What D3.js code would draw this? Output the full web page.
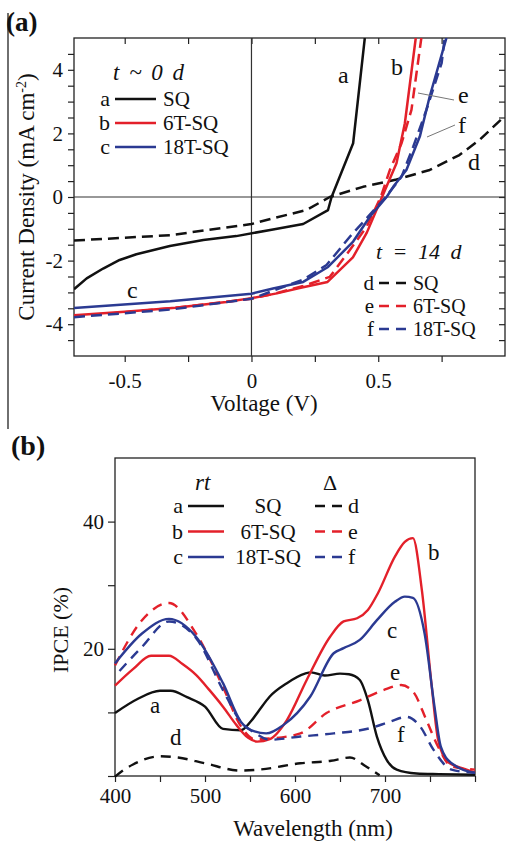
<!DOCTYPE html>
<html><head><meta charset="utf-8">
<script src="https://cdn.jsdelivr.net/npm/d3@7"></script>
<style>body{margin:0;background:#fff}svg{display:block}
svg text{font-family:"Liberation Serif","Tinos","Times New Roman","Times","DejaVu Serif",serif;fill:#111}</style>
</head><body><svg id="c" width="506" height="843"></svg>
<script>
// ---------- Panel (a): J–V curves ----------
const jvLabels = ["a","b","c","d","e","f"];
const jvNames = ["SQ","6T-SQ","18T-SQ","SQ","6T-SQ","18T-SQ"];
const jvV_a = [-0.7,-0.65,-0.585,-0.52,-0.454,-0.322,-0.19,-0.06,0.085,0.204,0.302,0.316,0.401,0.447];
const jvJ_a = [-2.9,-2.56,-2.25,-1.98,-1.80,-1.54,-1.35,-1.23,-1.02,-0.85,-0.41,0,1.69,5.0];
const jvV_b = [-0.7,-0.5,-0.3,-0.1,0,0.1,0.19,0.3,0.4,0.455,0.515,0.572,0.605,0.648];
const jvJ_b = [-3.72,-3.61,-3.48,-3.3,-3.18,-3.03,-2.86,-2.67,-1.9,-1.12,0,1.06,2.32,5.0];
const jvV_c = [-0.7,-0.32,0,0.085,0.204,0.302,0.401,0.467,0.533,0.559,0.611,0.664,0.703,0.769];
const jvJ_c = [-3.49,-3.28,-3.04,-2.88,-2.67,-2.2,-1.4,-0.62,0,0.32,0.85,1.9,3.16,5.0];
const jvV_d = [-0.7,-0.32,0,0.085,0.217,0.309,0.44,0.572,0.703,0.82,0.9,1.0];
const jvJ_d = [-1.37,-1.2,-0.85,-0.67,-0.41,0,0.32,0.55,0.85,1.32,1.8,2.55];
const jvV_e = [-0.7,-0.32,0,0.085,0.204,0.309,0.388,0.454,0.51,0.546,0.592,0.631,0.67];
const jvJ_e = [-3.76,-3.5,-3.2,-3.05,-2.8,-2.51,-1.67,-0.94,0,0.85,1.69,2.74,5.0];
const jvV_f = [-0.7,-0.32,0,0.085,0.204,0.296,0.388,0.454,0.53,0.592,0.638,0.69,0.75,0.762];
const jvJ_f = [-3.78,-3.54,-3.2,-2.95,-2.6,-2.14,-1.25,-0.67,0,0.64,1.58,2.74,4.21,5.0];
const jvXTicks = [-0.5,-0.25,0,0.25,0.5,0.75];
const jvXLabels = {"-0.5":"-0.5","0":"0","0.5":"0.5"};
const jvYTicks = [-4.5,-4,-3.5,-3,-2.5,-2,-1.5,-1,-0.5,0,0.5,1,1.5,2,2.5,3,3.5,4,4.5];
const jvYLabels = {"-4":"-4","-2":"-2","0":"0","2":"2","4":"4"};

// ---------- Panel (b): IPCE spectra ----------
const ipceL_a = [400,425,450,462,480,500,520,540,551,560,572,591,611,618,633,650,660,672,681,691,702,713,735,760,800];
const ipceV_a = [9.9,12.1,13.4,13.4,12.4,10.9,7.4,7.2,8.6,10.3,12.5,14.6,16.1,16.3,15.8,16.1,16.0,15.1,11.9,6.2,2.5,1.0,0.4,0.3,0.2];
const ipceL_b = [400,420,440,460,475,490,505,520,535,548,558,572,591,613,639,654,669,681,692,711,722,731,741,752,759,770,789,800];
const ipceV_b = [14.2,16.8,18.9,18.9,17.6,15.9,13.5,10.9,8.0,6.0,5.4,5.8,8.8,15.1,21.9,24.3,24.8,26.1,28.7,34.5,36.8,37.4,29.2,14.0,5.7,2.2,1.1,0.5];
const ipceL_c = [400,430,460,490,520,540,555,568,587,617,643,654,672,691,711,722,731,744,755,762,774,800];
const ipceV_c = [17.7,22.4,24.7,21.9,14.6,8.5,7.0,6.7,8.0,12.5,19.3,20.1,21.4,24.5,27.4,28.2,28.0,22.4,10.9,4.6,2.0,0.5];
const ipceL_d = [400,408,420,450,470,500,539,560,606,640,661,679,694];
const ipceV_d = [-0.1,0.8,1.8,3.1,2.9,2.0,0.85,1.0,2.0,2.4,2.9,1.5,0.1];
const ipceL_e = [400,430,460,490,520,540,555,572,606,635,672,698,718,731,746,759,774,800];
const ipceV_e = [17.4,24.5,27.2,22.4,14.0,7.8,5.8,5.9,6.7,9.9,11.9,13.5,14.3,13.3,8.8,4.6,1.5,1.0];
const ipceL_f = [405,430,460,490,520,540,555,572,606,643,683,705,724,739,754,774,800];
const ipceV_f = [16.5,20.3,24.3,21.7,13.5,8.5,6.8,5.7,6.2,6.7,7.5,8.5,9.3,7.8,4.1,1.0,0.5];
const ipceXTicks = [400,450,500,550,600,650,700,750,800];
const ipceXLabels = {"400":"400","500":"500","600":"600","700":"700"};
const ipceYTicks = [0,10,20,30,40];
const ipceYLabels = {"20":"20","40":"40"};

const RED = "#e3202a", BLUE = "#2b3a92", BLACK = "#111";
const FONT = "'Liberation Serif','Tinos','Times New Roman','DejaVu Serif',serif";
const svg = d3.select("#c");
svg.append("rect").attr("width",506).attr("height",843).attr("fill","#fff");

svg.append("line").attr("x1",8).attr("x2",8).attr("y1",13).attr("y2",429).attr("stroke","#222").attr("stroke-width",1.3);

// ================= Panel (a) =================
const xA = d3.scaleLinear().domain([-0.7,1.0]).range([74,505]);
const yA = d3.scaleLinear().domain([-5,5]).range([356,38]);
const gA = svg.append("g");
svg.append("defs").append("clipPath").attr("id","clipA").append("rect")
  .attr("x",74).attr("y",38).attr("width",431).attr("height",318);

function styleAxis(g){ g.attr("font-family",null); g.select(".domain").remove(); g.selectAll(".tick line").attr("stroke","#222").attr("stroke-width",1.2); g.selectAll("text").style("font-size","21px").attr("fill","#111"); }

gA.append("g").attr("transform","translate(0,356)")
  .call(d3.axisBottom(xA).tickValues(jvXTicks).tickSize(6).tickFormat(d=>jvXLabels[String(d)]||""))
  .call(styleAxis).call(g=>g.selectAll("text").attr("y",32).attr("dy",0));
gA.append("g").attr("transform","translate(0,38)")
  .call(d3.axisBottom(xA).tickValues(jvXTicks).tickSize(6).tickFormat(""))
  .call(styleAxis);
gA.append("g").attr("transform","translate(74,0)")
  .call(d3.axisLeft(yA).tickValues(jvYTicks).tickSize(6).tickFormat(d=>jvYLabels[String(d)]||""))
  .call(styleAxis).call(g=>g.selectAll("text").attr("x",-11));
gA.append("g").attr("transform","translate(505,0)")
  .call(d3.axisLeft(yA).tickValues(jvYTicks).tickSize(6).tickFormat(""))
  .call(styleAxis);
gA.append("rect").attr("x",74).attr("y",38).attr("width",431).attr("height",318)
  .attr("fill","none").attr("stroke","#222").attr("stroke-width",1.3);
gA.append("line").attr("x1",74).attr("x2",505).attr("y1",yA(0)).attr("y2",yA(0)).attr("stroke","#333").attr("stroke-width",1.2);
gA.append("line").attr("x1",xA(0)).attr("x2",xA(0)).attr("y1",38).attr("y2",356).attr("stroke","#333").attr("stroke-width",1.2);

const jvSeries = [
  {V:jvV_d,J:jvJ_d,c:BLACK,dash:"11,6"},
  {V:jvV_a,J:jvJ_a,c:BLACK,dash:null},
  {V:jvV_b,J:jvJ_b,c:RED,dash:null},
  {V:jvV_e,J:jvJ_e,c:RED,dash:"11,6"},
  {V:jvV_c,J:jvJ_c,c:BLUE,dash:null},
  {V:jvV_f,J:jvJ_f,c:BLUE,dash:"11,6"}
];
const lineA = d3.line().x(d=>xA(d[0])).y(d=>yA(d[1]));
const curvesA = gA.append("g").attr("clip-path","url(#clipA)");
jvSeries.forEach(s=>{
  curvesA.append("path").datum(s.V.map((v,i)=>[v,s.J[i]])).attr("d",lineA)
    .attr("fill","none").attr("stroke",s.c).attr("stroke-width",2.5)
    .attr("stroke-dasharray",s.dash).attr("stroke-linejoin","round");
});

function txt(g,x,y,s,size,extra){
  const t = g.append("text").attr("x",x).attr("y",y).style("font-family",FONT).style("font-size",size+"px").text(s);
  if(extra) extra(t);
  return t;
}

txt(gA,113,80,"t ~ 0 d",23,t=>t.style("font-style","italic").style("word-spacing","4px"));
const legA1 = [{l:"a",n:"SQ",c:BLACK},{l:"b",n:"6T-SQ",c:RED},{l:"c",n:"18T-SQ",c:BLUE}];
legA1.forEach((d,i)=>{
  const y = 99 + i*24;
  txt(gA,110,y+7,d.l,22,t=>t.attr("text-anchor","end"));
  gA.append("line").attr("x1",115).attr("x2",156).attr("y1",y).attr("y2",y).attr("stroke",d.c).attr("stroke-width",2.5);
  txt(gA,163,y+7,d.n,21);
});
txt(gA,376,259,"t = 14 d",22,t=>t.style("font-style","italic").style("word-spacing","5px"));
const legA2 = [{l:"d",n:"SQ",c:BLACK},{l:"e",n:"6T-SQ",c:RED},{l:"f",n:"18T-SQ",c:BLUE}];
legA2.forEach((d,i)=>{
  const y = 283 + i*23;
  txt(gA,374,y+7,d.l,21,t=>t.attr("text-anchor","end"));
  gA.append("line").attr("x1",379).attr("x2",406).attr("y1",y).attr("y2",y).attr("stroke",d.c).attr("stroke-width",2.5).attr("stroke-dasharray","10,7");
  txt(gA,413,y+7,d.n,20);
});
[["a",338,83],["b",391,75],["e",458,103],["f",458,133],["d",468,170],["c",127,298]].forEach(t=>{
  txt(gA,t[1],t[2],t[0],24);
});
gA.append("line").attr("x1",418).attr("y1",93).attr("x2",454).attr("y2",100).attr("stroke","#777").attr("stroke-width",1);
gA.append("line").attr("x1",427).attr("y1",137).attr("x2",455).attr("y2",125).attr("stroke","#777").attr("stroke-width",1);

txt(svg,6,31,"(a)",27,t=>t.style("font-weight","bold"));
const yt = svg.append("text").attr("transform","translate(34,197) rotate(-90)").attr("text-anchor","middle").style("font-family",FONT).style("font-size","23px");
yt.append("tspan").text("Current Density (mA cm");
yt.append("tspan").attr("dy",-8).style("font-size","14px").text("-2");
yt.append("tspan").attr("dy",8).text(")");
txt(svg,264,411,"Voltage (V)",23,t=>t.attr("text-anchor","middle"));

// ================= Panel (b) =================
const xB = d3.scaleLinear().domain([400,800]).range([115,475]);
const yB = d3.scaleLinear().domain([0,50]).range([776,458]);
const gB = svg.append("g");
gB.append("g").attr("transform","translate(0,776)")
  .call(d3.axisBottom(xB).tickValues(ipceXTicks).tickSize(6).tickFormat(d=>ipceXLabels[String(d)]||""))
  .call(styleAxis).call(g=>g.selectAll("text").attr("y",27).attr("dy",0));
gB.append("g").attr("transform","translate(115,0)")
  .call(d3.axisLeft(yB).tickValues(ipceYTicks).tickSize(7).tickFormat(d=>ipceYLabels[String(d)]||""))
  .call(styleAxis).call(g=>g.selectAll("text").attr("x",-11));
gB.append("rect").attr("x",115).attr("y",458).attr("width",360).attr("height",318)
  .attr("fill","none").attr("stroke","#222").attr("stroke-width",1.3);

const ipceSeries = [
  {L:ipceL_d,V:ipceV_d,c:BLACK,dash:"10,7"},
  {L:ipceL_a,V:ipceV_a,c:BLACK,dash:null},
  {L:ipceL_e,V:ipceV_e,c:RED,dash:"10,7"},
  {L:ipceL_b,V:ipceV_b,c:RED,dash:null},
  {L:ipceL_f,V:ipceV_f,c:BLUE,dash:"10,7"},
  {L:ipceL_c,V:ipceV_c,c:BLUE,dash:null}
];
const lineB = d3.line().x(d=>xB(d[0])).y(d=>yB(d[1])).curve(d3.curveMonotoneX);
ipceSeries.forEach(s=>{
  gB.append("path").datum(s.L.map((l,i)=>[l,s.V[i]])).attr("d",lineB)
    .attr("fill","none").attr("stroke",s.c).attr("stroke-width",2.4)
    .attr("stroke-dasharray",s.dash).attr("stroke-linejoin","round");
});

txt(gB,195,490,"rt",23,t=>t.style("font-style","italic"));
txt(gB,323,490,"Δ",22);
const legB = [{l:"a",n:"SQ",c:BLACK,r:"d"},{l:"b",n:"6T-SQ",c:RED,r:"e"},{l:"c",n:"18T-SQ",c:BLUE,r:"f"}];
legB.forEach((d,i)=>{
  const y = 506 + i*25.5;
  txt(gB,183,y+7,d.l,22,t=>t.attr("text-anchor","end"));
  gB.append("line").attr("x1",188).attr("x2",224).attr("y1",y).attr("y2",y).attr("stroke",d.c).attr("stroke-width",2.5);
  txt(gB,268,y+7,d.n,21,t=>t.attr("text-anchor","middle"));
  gB.append("line").attr("x1",315).attr("x2",344).attr("y1",y).attr("y2",y).attr("stroke",d.c).attr("stroke-width",2.5).attr("stroke-dasharray","10,7");
  txt(gB,348,y+7,d.r,22);
});
[["a",150,713],["d",170,745],["b",428,560],["c",387,638],["e",390,680],["f",397,742]].forEach(t=>{
  txt(gB,t[1],t[2],t[0],23);
});
txt(svg,11,455,"(b)",28,t=>t.style("font-weight","bold"));
txt(svg,0,0,"IPCE (%)",22,t=>t.attr("x",null).attr("y",null).attr("transform","translate(68,630) rotate(-90)").attr("text-anchor","middle"));
txt(svg,313,836,"Wavelength (nm)",23,t=>t.attr("text-anchor","middle"));
</script></body></html>
